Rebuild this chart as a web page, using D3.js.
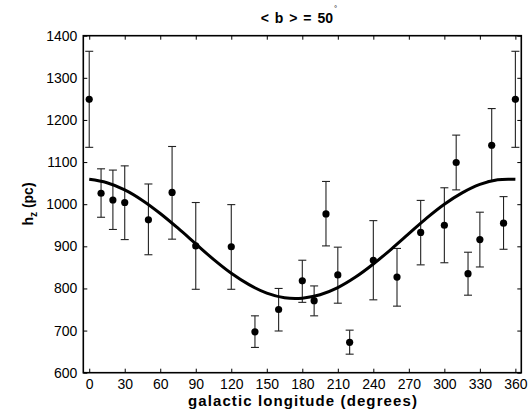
<!DOCTYPE html>
<html><head><meta charset="utf-8">
<script src="https://cdn.jsdelivr.net/npm/d3@7"></script>
<style>body{margin:0;background:#fff}svg{display:block}text{font-family:"Liberation Sans",Arial,sans-serif}</style>
</head><body><svg id="c" width="531" height="412"></svg>
<script>
// galactic longitude of each bin (degrees)
const longitudes = [0,10,20,30,50,70,90,120,140,160,180,190,200,210,220,240,260,280,300,310,320,330,340,350,360];
// scale height h_z (pc)
const hz      = [1249,1026,1010,1004,963,1028,901,899,697,750,818,771,977,832,672,867,827,933,950,1099,835,916,1140,955,1249];
const errLow  = [1135,969,940,916,880,917,798,798,660,699,767,735,901,765,644,773,758,856,861,1034,784,851,1056,893,1135];
const errHigh = [1363,1084,1081,1091,1048,1137,1004,999,735,800,867,806,1054,898,701,961,895,1009,1039,1164,886,981,1227,1018,1363];
// fitted curve
const curveL  = [0,15,30,45,60,75,90,105,120,135,150,165,180,195,210,225,240,255,270,285,300,315,330,345,360];
const curveH  = [1059,1051,1034,1009,978,943,906,869,836,809,789,778,777,785,802,827,858,893,930,967,1000,1027,1047,1058,1059];
const xTicks = [0,30,60,90,120,150,180,210,240,270,300,330,360];
const yTicks = [600,700,800,900,1000,1100,1200,1300,1400];

const L=83.3,R=521.3,T=35.7,B=372.7;
const svg=d3.select("#c");
const x=d3.scaleLinear().domain([-5,365]).range([L,R]);
const y=d3.scaleLinear().domain([600,1400]).range([B,T]);

// axes (inward ticks)
const tk=4;
svg.append("g").attr("transform",`translate(0,${B})`)
  .call(d3.axisBottom(x).tickValues(xTicks).tickSize(-tk).tickPadding(6).tickFormat(d3.format("d")))
  .call(g=>{g.select(".domain").remove();g.selectAll("line").attr("stroke","#000");
    g.selectAll("text").attr("font-size",14).attr("fill","#000").attr("font-family","Liberation Sans, Arial, sans-serif");});
svg.append("g").attr("transform",`translate(0,${T})`)
  .call(d3.axisTop(x).tickValues(xTicks).tickSize(-tk).tickFormat(""))
  .call(g=>{g.select(".domain").remove();g.selectAll("line").attr("stroke","#000");});
svg.append("g").attr("transform",`translate(${L},0)`)
  .call(d3.axisLeft(y).tickValues(yTicks).tickSize(-tk).tickPadding(6).tickFormat(d3.format("d")))
  .call(g=>{g.select(".domain").remove();g.selectAll("line").attr("stroke","#000");
    g.selectAll("text").attr("font-size",14).attr("fill","#000").attr("font-family","Liberation Sans, Arial, sans-serif");});
svg.append("g").attr("transform",`translate(${R},0)`)
  .call(d3.axisRight(y).tickValues(yTicks).tickSize(-tk).tickFormat(""))
  .call(g=>{g.select(".domain").remove();g.selectAll("line").attr("stroke","#000");});

svg.append("rect").attr("x",L).attr("y",T).attr("width",R-L).attr("height",B-T)
  .attr("fill","none").attr("stroke","#000").attr("stroke-width",1.6);

// error bars
const eb=svg.append("g").attr("stroke","#222").attr("stroke-width",1.1);
longitudes.forEach((l,i)=>{
  const cx=x(l);
  eb.append("line").attr("x1",cx).attr("x2",cx).attr("y1",y(errLow[i])).attr("y2",y(errHigh[i]));
  eb.append("line").attr("x1",cx-4).attr("x2",cx+4).attr("y1",y(errLow[i])).attr("y2",y(errLow[i]));
  eb.append("line").attr("x1",cx-4).attr("x2",cx+4).attr("y1",y(errHigh[i])).attr("y2",y(errHigh[i]));
});

// fitted curve
svg.append("path").datum(curveL.map((l,i)=>[l,curveH[i]]))
  .attr("fill","none").attr("stroke","#000").attr("stroke-width",3)
  .attr("d",d3.line().x(d=>x(d[0])).y(d=>y(d[1])).curve(d3.curveCatmullRom));

// points
svg.append("g").selectAll("circle").data(longitudes).join("circle")
  .attr("cx",d=>x(d)).attr("cy",(d,i)=>y(hz[i])).attr("r",3.6).attr("fill","#000");

// title
const t=svg.append("text").attr("x",299).attr("y",22.5).attr("text-anchor","middle")
  .attr("font-size",14).attr("font-weight","bold").attr("word-spacing",2);
t.append("tspan").text("< b > = 50");
t.append("tspan").attr("dy",-12).attr("dx",1).attr("font-size",8).attr("font-weight","normal").text("°");

// x label
svg.append("text").attr("x",303).attr("y",406).attr("text-anchor","middle")
  .attr("font-size",15).attr("font-weight","bold").attr("letter-spacing",1.1).text("galactic longitude (degrees)");
// y label
const yl=svg.append("text").attr("transform","translate(33,204) rotate(-90)").attr("text-anchor","middle")
  .attr("font-size",14).attr("font-weight","bold");
yl.append("tspan").text("h");
yl.append("tspan").attr("font-size",10).attr("dy",4).text("z");
yl.append("tspan").attr("dy",-4).text(" (pc)");
</script></body></html>
